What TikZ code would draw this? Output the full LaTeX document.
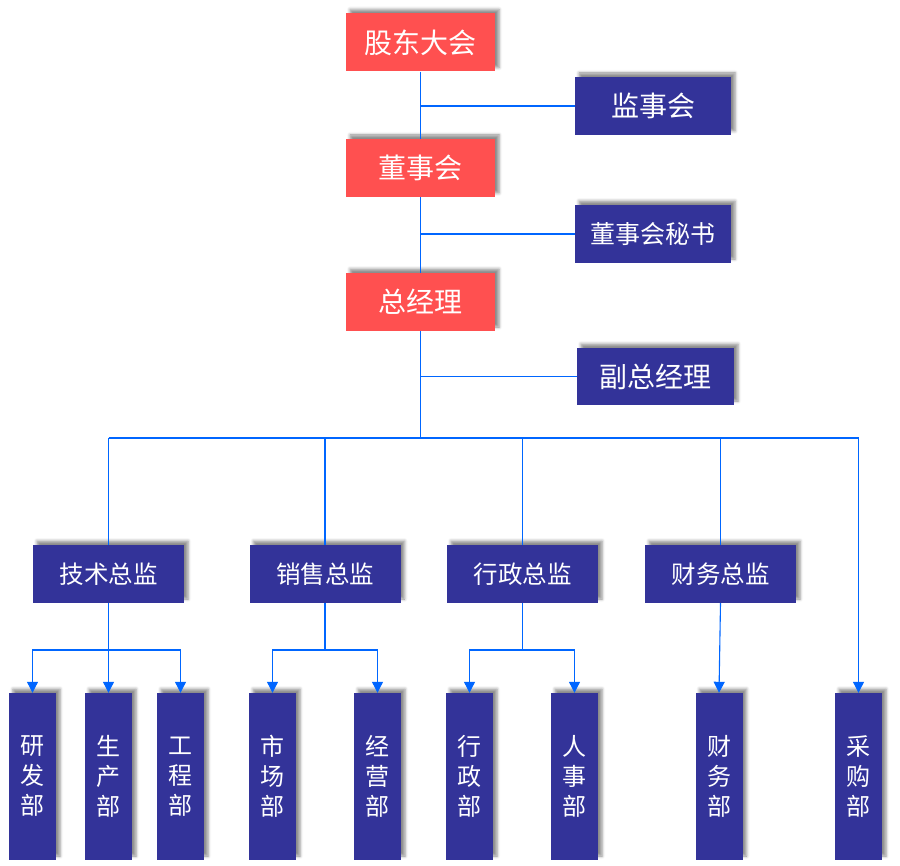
\documentclass[tikz,border=0pt]{standalone}
\usepackage{fontspec}
\newfontfamily\cjk{Noto Sans CJK SC}
\usetikzlibrary{shadows.blur,arrows.meta}
\definecolor{boxred}{RGB}{255,80,80}
\definecolor{boxblue}{RGB}{51,51,153}
\definecolor{linkblue}{RGB}{0,102,255}
\tikzset{
  base/.style={rectangle,inner sep=0pt,text=white,align=center,
    blur shadow={shadow xshift=4pt,shadow yshift=4pt,shadow blur radius=3pt,shadow opacity=45}},
  redbox/.style={base,fill=boxred,minimum width=149pt,minimum height=58pt,font=\cjk\fontsize{28}{32}\selectfont},
  bluebox/.style={base,fill=boxblue,minimum width=156pt,minimum height=58pt,font=\cjk\fontsize{28}{32}\selectfont},
  dirbox/.style={base,fill=boxblue,minimum width=151pt,minimum height=58pt,font=\cjk\fontsize{24.5}{28}\selectfont},
  deptbox/.style={base,fill=boxblue,minimum width=47pt,minimum height=167pt,font=\cjk\fontsize{24}{30}\selectfont},
  link/.style={draw=linkblue,line width=1.1pt},
  arr/.style={link,-{Triangle[width=11pt,length=11pt]}}
}
\begin{document}
\begin{tikzpicture}[x=1pt,y=-1pt]
\useasboundingbox (0,0) rectangle (900,866);
% top chain
\node[redbox] (gd) at (420.5,42.5) {股东大会};
\node[redbox] (dsh) at (420.5,168) {董事会};
\node[redbox] (zjl) at (420.5,302) {总经理};
\node[bluebox] (jsh) at (653,106) {监事会};
\node[bluebox,font=\cjk\fontsize{25}{30}\selectfont] (ms) at (653,234) {董事会秘书};
\node[bluebox,minimum width=157pt,minimum height=57pt] (fz) at (655.5,376.5) {副总经理};
% directors
\node[dirbox] (js) at (108.5,574) {技术总监};
\node[dirbox] (xs) at (325,574) {销售总监};
\node[dirbox] (xz) at (522.5,574) {行政总监};
\node[dirbox] (cw) at (720.5,574) {财务总监};
% departments
\node[deptbox] (d1) at (32.5,776.5) {研\\发\\部};
\node[deptbox] (d2) at (108.5,776.5) {生\\产\\部};
\node[deptbox] (d3) at (180.5,776.5) {工\\程\\部};
\node[deptbox] (d4) at (272.5,776.5) {市\\场\\部};
\node[deptbox] (d5) at (377.5,776.5) {经\\营\\部};
\node[deptbox] (d6) at (469.5,776.5) {行\\政\\部};
\node[deptbox] (d7) at (574.5,776.5) {人\\事\\部};
\node[deptbox] (d8) at (719,776.5) {财\\务\\部};
\node[deptbox] (d9) at (858.5,776.5) {采\\购\\部};
% coordinates
\coordinate (b0) at (420.5,438);
\coordinate (bl) at (108.5,438);
\coordinate (br) at (858.5,438);
\coordinate (jsb) at (108.5,650);
\coordinate (xsb) at (325,650);
\coordinate (xzb) at (522.5,650);
% links
\draw[link] (gd.south) -- (dsh.north);
\draw[link] (dsh.south) -- (zjl.north);
\draw[link] (zjl.south) -- (b0);
\draw[link] (gd.south |- jsh.west) -- (jsh.west);
\draw[link] (gd.south |- ms.west) -- (ms.west);
\draw[link] (gd.south |- fz.west) -- (fz.west);
\draw[link] (bl) -- (br);
\draw[link] (bl) -- (js.north);
\draw[link] (b0 -| xs.north) -- (xs.north);
\draw[link] (b0 -| xz.north) -- (xz.north);
\draw[link] (b0 -| cw.north) -- (cw.north);
\draw[arr] (br) -- (d9.north);
\draw[link] (js.south) -- (jsb);
\draw[arr] (jsb) -| (d1.north);
\draw[arr] (jsb) -- (d2.north);
\draw[arr] (jsb) -| (d3.north);
\draw[link] (xs.south) -- (xsb);
\draw[arr] (xsb) -| (d4.north);
\draw[arr] (xsb) -| (d5.north);
\draw[link] (xz.south) -- (xzb);
\draw[arr] (xzb) -| (d6.north);
\draw[arr] (xzb) -| (d7.north);
\draw[arr] (cw.south) -- (d8.north);
\end{tikzpicture}
\end{document}
